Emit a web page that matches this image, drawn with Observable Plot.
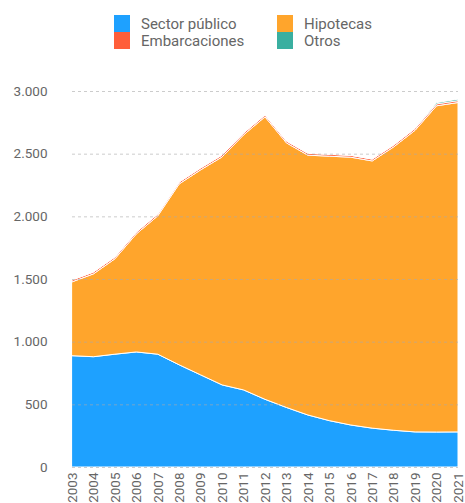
<!DOCTYPE html>
<html><head><meta charset="utf-8">
<script src="https://cdn.jsdelivr.net/npm/d3@7"></script>
<script src="https://cdn.jsdelivr.net/npm/@observablehq/plot@0.6"></script>
<style>
body{margin:0;background:#fff;font-family:Roboto,"Noto Sans",sans-serif;}
#legend{position:relative;height:55px;width:465px;}
.item{position:absolute;display:flex;align-items:center;font-size:15px;color:#666;height:17px;}
.sw{width:16px;height:17px;margin-right:11px;}
</style></head><body>
<div id="legend"></div>
<div id="chart"></div>
<script>
const years = [2003,2004,2005,2006,2007,2008,2009,2010,2011,2012,2013,2014,2015,2016,2017,2018,2019,2020,2021];
const sectorPublico = [888,880,900,918,900,815,735,655,615,540,475,415,370,335,310,293,280,279,280];
const hipotecas = [589,661,761,942,1104,1444,1636,1819,2035,2254,2111,2073,2110,2137,2132,2261,2407,2603,2628];
const embarcaciones = [15,15,15,15,15,15,15,15,15,15,15,15,15,15,15,15,15,15,15];
const otros = [0,0,0,0,0,0,0,0,0,0,0,0,0,0,0,0,0,10,12];
const seriesNames = ["Sector público","Hipotecas","Embarcaciones","Otros"];
const seriesColors = ["#1ea1ff","#ffa52c","#ff5e3a","#3aafa0"];
const yTicks = [0,500,1000,1500,2000,2500,3000];

const seriesValues = [sectorPublico,hipotecas,embarcaciones,otros];
const data = [];
seriesNames.forEach((s,i)=>years.forEach((y,j)=>data.push({year:y,serie:s,value:seriesValues[i][j]})));

const loc = d3.formatLocale({decimal:",",thousands:".",grouping:[3],currency:["","€"]});
const fmt = loc.format(",d");

// legend
const leg = document.getElementById("legend");
const pos = [[114,15],[277,15],[114,32],[277,32]];
seriesNames.forEach((s,i)=>{
  const d = document.createElement("div");
  d.className="item";
  d.style.left=pos[i][0]+"px"; d.style.top=pos[i][1]+"px";
  d.innerHTML=`<span class="sw" style="background:${seriesColors[i]}"></span>${s}`;
  leg.appendChild(d);
});

const chart = Plot.plot({
  width:465, height:448,
  marginLeft:72, marginRight:7, marginTop:36, marginBottom:36,
  style:{fontFamily:"Roboto, sans-serif", fontSize:"13.5px", color:"#666", background:"#fff"},
  x:{type:"linear", domain:[2003,2021], ticks:years, tickFormat:d=>String(d), tickSize:0, tickPadding:5, tickRotate:-90, label:null},
  y:{domain:[0,3000], ticks:yTicks, tickFormat:fmt, tickSize:0, tickPadding:25, label:null},
  color:{domain:seriesNames, range:seriesColors},
  marks:[
    Plot.areaY(data,{x:"year", y:"value", z:"serie", fill:"serie", order:seriesNames, stroke:"white", strokeWidth:1, fillOpacity:1}),
    Plot.ruleY(yTicks,{stroke:"#aaa", strokeDasharray:"3,3", strokeOpacity:0.6})
  ]
});
document.getElementById("chart").appendChild(chart);
</script>
</body></html>
